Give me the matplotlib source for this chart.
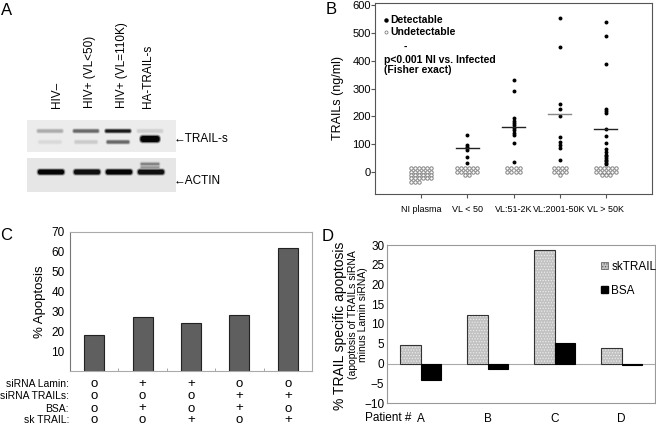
import numpy as np
import matplotlib.pyplot as plt
from matplotlib.patches import FancyBboxPatch, Rectangle
from matplotlib.transforms import blended_transform_factory

plt.rcParams['font.family'] = ['Liberation Sans', 'DejaVu Sans']
plt.rcParams['hatch.linewidth'] = 0.5

W, H = 656, 426

# panel A - blot lanes and band darkness (0 = none, 1 = black)
lane_names = ['HIV\u2013', 'HIV+ (VL<50)', 'HIV+ (VL=110K)', 'HA-TRAIL-s']
trail_upper = [0.25, 0.55, 0.9, 0.1]
trail_lower = [0.05, 0.12, 0.55, 1.0]
actin_band = [1.0, 0.95, 1.0, 0.95]

# panel B - TRAILs (ng/ml)
groups = ['NI plasma', 'VL < 50', 'VL:51-2K', 'VL:2001-50K', 'VL > 50K']
det_ni = []
det_vl50 = [133, 97, 91, 85, 79, 55, 33]
det_vl2k = [331, 292, 193, 183, 175, 167, 159, 151, 141, 133, 102, 37]
det_vl50k = [553, 451, 243, 227, 201, 125, 109, 97, 85, 43]
det_vlhigh = [538, 489, 387, 225, 219, 211, 155, 129, 105, 82, 70, 62, 56, 50, 44, 38, 32, 27]
detectable = [det_ni, det_vl50, det_vl2k, det_vl50k, det_vlhigh]
undetect_n = [27, 14, 8, 9, 15]
group_line = [None, 85, 161, 207, 155]

# panel C - % apoptosis
cond_labels = ['siRNA Lamin:', 'siRNA TRAILs:', 'BSA:', 'sk TRAIL:']
cond_lamin = ['o', '+', '+', 'o', 'o']
cond_trails = ['o', 'o', 'o', '+', '+']
cond_bsa = ['o', '+', 'o', '+', 'o']
cond_sk = ['o', 'o', '+', 'o', '+']
apoptosis = [18, 27, 24, 28, 62]

# panel D - TRAIL specific apoptosis
patients = ['A', 'B', 'C', 'D']
sk_trail = [4.7, 12.2, 28.7, 3.8]
bsa = [-4.2, -1.3, 5.1, -0.5]

fig = plt.figure(figsize=(W / 100, H / 100), dpi=100)


def px_axes(x0, y0, x1, y1):
    return fig.add_axes([x0 / W, 1 - y1 / H, (x1 - x0) / W, (y1 - y0) / H])


def ftext(x, y, s, **kw):
    return fig.text(x / W, 1 - y / H, s, **kw)


# panel letters
ftext(1, 3, 'A', fontsize=12, va='top')
ftext(326, 2, 'B', fontsize=12, va='top')
ftext(0, 228, 'C', fontsize=12, va='top')
ftext(322, 229, 'D', fontsize=12, va='top')

# ---------------- A ----------------
ax = px_axes(20, 112, 200, 198)
ax.set_xlim(20, 200)
ax.set_ylim(198, 112)
ax.axis('off')
ax.add_patch(Rectangle((27, 120), 149, 32, fc='#ececec', ec='none'))
ax.add_patch(Rectangle((27, 158), 149, 34, fc='#e6e6e6', ec='none'))
lane_x = [50, 86, 118, 150]


def band(cx, cy, w, h, d):
    # soft edged band: a faint halo under a darker core
    if d <= 0:
        return
    g = max(0.02, 0.9 - 0.88 * d)
    for grow, a in [(3.0, 0.25), (1.5, 0.45), (0, 1.0)]:
        ww, hh = w + grow, h + grow
        ax.add_patch(FancyBboxPatch((cx - ww / 2, cy - hh / 2), ww, hh,
                                    boxstyle='round,pad=0,rounding_size=%.1f' % (hh / 2.2),
                                    fc=str(g), ec='none', alpha=a))


for i, cx in enumerate(lane_x):
    band(cx, 131, 25, 2.5, trail_upper[i])
    if i == 3:
        band(cx, 139, 19, 6, trail_lower[i])
    else:
        band(cx, 142, 22, 2.5, trail_lower[i])
    band(cx + 1, 172, 26, 4.5, actin_band[i])
band(lane_x[3], 164, 18, 1.8, 0.45)
band(lane_x[3], 167.5, 18, 1.8, 0.35)

for i, name in enumerate(lane_names):
    ftext([57, 90, 122, 148][i], 108, name, rotation=90, ha='center', va='bottom', fontsize=8.5)
ftext(174, 139, '\u2190TRAIL-s', fontsize=8.5, va='center')
ftext(174, 181, '\u2190ACTIN', fontsize=8.5, va='center')

# ---------------- B ----------------
ax = px_axes(375, 3, 652, 194)
ax.set_xlim(0, 6)
ax.set_ylim(-80, 608)
for s in ax.spines.values():
    s.set_color('#555555')
ax.set_yticks(range(0, 601, 100))
ax.set_xticks(range(1, 6))
ax.set_xticklabels(groups, fontsize=6.5)
ax.tick_params(axis='y', labelsize=8, length=3, pad=0, color='#555555')
ax.tick_params(axis='x', length=3, pad=5, color='#555555')
ax.set_ylabel('TRAILs (ng/ml)', fontsize=9, labelpad=6)

grid_cols = [6, 6, 4, 4, 6]
line_cols = ['#333333', '#222222', '#222222', '#888888', '#222222']
for g in range(5):
    xc = g + 1
    vals = detectable[g]
    if vals:
        ax.scatter([xc] * len(vals), vals, s=8, color='black', zorder=3, linewidths=0)
    n = undetect_n[g]
    cols = grid_cols[g]
    xs, ys = [], []
    for k in range(n):
        r, c = divmod(k, cols)
        in_row = min(cols, n - r * cols)
        if g == 0:
            off = c - (cols - 1) / 2
        else:
            off = c - (in_row - 1) / 2
        xs.append(xc + off * 0.088)
        ys.append(12 - 12 * r)
    ax.scatter(xs, ys, s=6, facecolors='white', edgecolors='#808080', linewidths=0.7, zorder=2)
    if group_line[g] is not None:
        ax.plot([xc - 0.25, xc + 0.25], [group_line[g]] * 2, color=line_cols[g], lw=1, zorder=4)

ax.plot([386 / W], [1 - 20 / H], 'o', ms=2.2, color='black', transform=fig.transFigure)
ax.plot([386 / W], [1 - 32 / H], 'o', ms=2.2, mfc='white', mec='#808080', mew=0.6,
        transform=fig.transFigure)
ftext(390, 20, 'Detectable', fontsize=7.5, fontweight='bold', va='center')
ftext(390, 32, 'Undetectable', fontsize=7.5, fontweight='bold', va='center')
ftext(404, 47, '-', fontsize=7.5, fontweight='bold', va='center')
ftext(384, 60, 'p<0.001 NI vs. Infected', fontsize=7.5, fontweight='bold', va='center')
ftext(384, 70, '(Fisher exact)', fontsize=7.5, fontweight='bold', va='center')

# ---------------- C ----------------
ax = px_axes(70, 232, 312, 371)
ax.set_xlim(-0.5, 4.5)
ax.set_ylim(0, 70)
ax.bar(range(5), apoptosis, width=0.41, color='#5f5f5f', edgecolor='#222222', lw=0.8)
ax.set_yticks(range(10, 71, 10))
ax.tick_params(axis='y', labelsize=8.5, length=0, pad=4)
ax.set_xticks([])
ax.set_xticks(np.arange(0.5, 4, 1), minor=True)
ax.tick_params(axis='x', which='minor', length=2, direction='in', color='#999999')
ax.spines['left'].set_color('#777777')
for k in ['top', 'right', 'bottom']:
    ax.spines[k].set_color('#aaaaaa')
ax.set_ylabel('% Apoptosis', fontsize=9.5, labelpad=4)

tr = blended_transform_factory(ax.transData, fig.transFigure)
row_y = [384, 396, 408.5, 420]
for r, row in enumerate([cond_lamin, cond_trails, cond_bsa, cond_sk]):
    ftext(69, row_y[r], cond_labels[r], fontsize=7.5, ha='right', va='center')
    for i, sym in enumerate(row):
        ax.text(i, 1 - row_y[r] / H, sym, transform=tr, fontsize=9.5,
                ha='center', va='center')

# ---------------- D ----------------
ax = px_axes(387, 245, 655, 403)
ax.set_xlim(-0.5, 3.5)
ax.set_ylim(-10, 30)
x = np.arange(4)
ax.bar(x - 0.155, sk_trail, width=0.31, color='#c2c2c2', edgecolor='#eeeeee', lw=0,
       hatch='......', zorder=2)
ax.bar(x - 0.155, sk_trail, width=0.31, fill=False, edgecolor='#333333', lw=0.8, zorder=3)
ax.bar(x + 0.155, bsa, width=0.31, color='black', edgecolor='black', lw=0.8, zorder=3)
ax.axhline(0, color='#aaaaaa', lw=0.8, zorder=1)
ax.set_yticks(range(-10, 31, 5))
ax.set_xticks(x)
ax.set_xticklabels(patients)
ax.tick_params(axis='y', labelsize=8.5, length=0, pad=2)
ax.tick_params(axis='x', labelsize=8.5, length=0, pad=7)
for s in ax.spines.values():
    s.set_color('#999999')

h_sk = Rectangle((0, 0), 1, 1, fc='#c2c2c2', ec='#555555', lw=0.5, hatch='......')
h_bsa = Rectangle((0, 0), 1, 1, fc='black', ec='black')
ax.legend([h_sk, h_bsa], ['skTRAIL', 'BSA'], loc='upper left', bbox_to_anchor=(0.78, 0.93),
          frameon=False, fontsize=8.5, handlelength=0.6, handleheight=0.6,
          handletextpad=0.3, labelspacing=1.0, borderaxespad=0)

ftext(340, 326, '% TRAIL specific apoptosis', rotation=90, fontsize=10, ha='center', va='center')
ftext(358, 315, '(apoptosis of TRAILs siRNA\nminus Lamin siRNA)', rotation=90, fontsize=7.5,
      ha='center', va='center', linespacing=1.0)
ftext(388, 418, 'Patient #', fontsize=8.5, ha='center', va='center')

fig.savefig('out.png', dpi=100)
